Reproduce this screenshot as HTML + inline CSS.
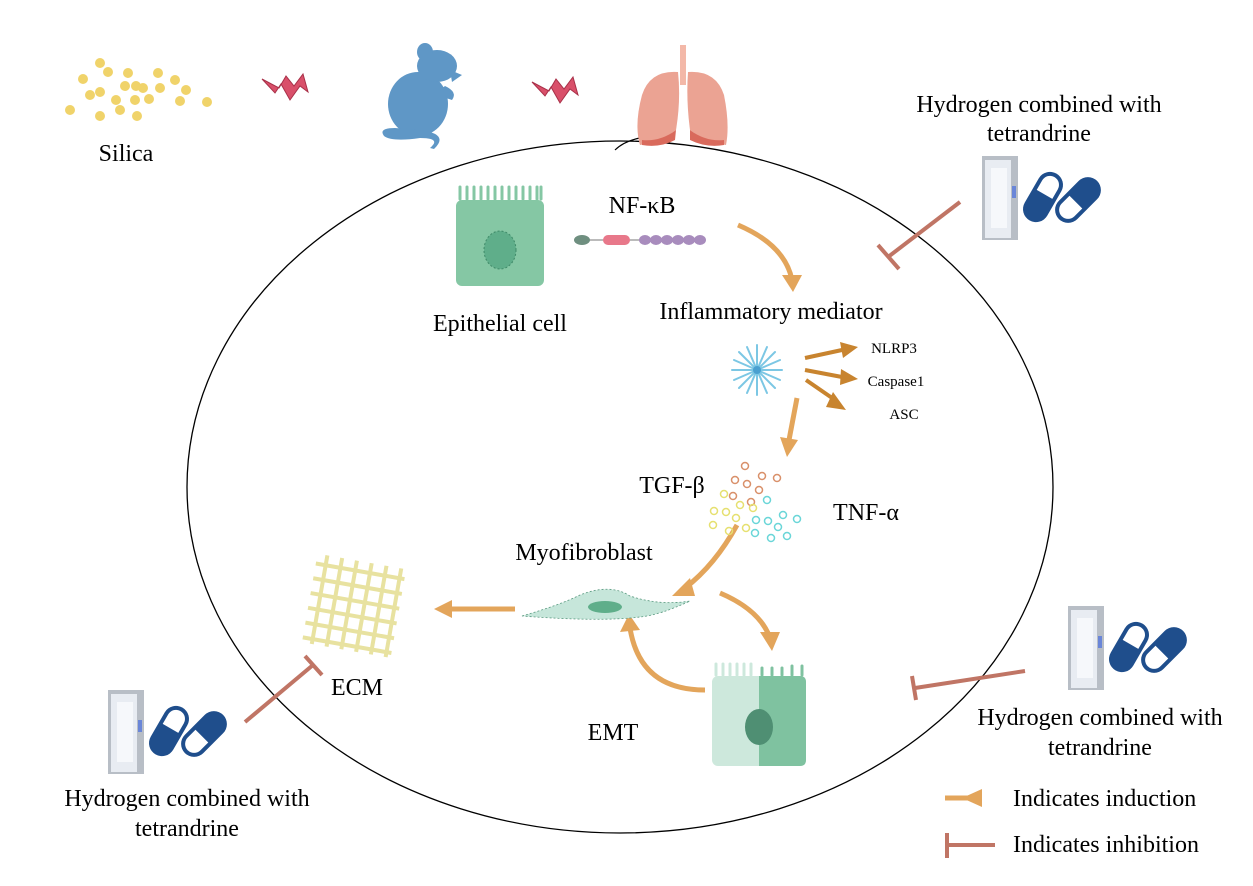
<!DOCTYPE html>
<html><head><meta charset="utf-8"><style>
html,body{margin:0;padding:0;background:#fff;}
svg{display:block;font-family:"Liberation Serif",serif;}
</style></head><body>
<svg width="1253" height="886" viewBox="0 0 1253 886" xmlns="http://www.w3.org/2000/svg">
<defs>
<g id="drug">
  <rect x="0" y="0" width="36" height="84" fill="#b8bec6"/>
  <rect x="3" y="4" width="26" height="78" fill="#e8ecf2"/>
  <rect x="9" y="12" width="16" height="60" fill="#f6f8fb"/>
  <rect x="30" y="30" width="4" height="12" fill="#6a86d8"/>
  <g transform="translate(61,41) rotate(-60)">
    <rect x="-27" y="-13" width="54" height="26" rx="13" fill="#1f4e8c"/>
    <path d="M3,-9 H14 A9,9 0 0 1 14,9 H3 Z" fill="#fff"/>
  </g>
  <g transform="translate(96,44) rotate(-45)">
    <rect x="-27" y="-13" width="54" height="26" rx="13" fill="#1f4e8c"/>
    <path d="M-3,-9 H-14 A9,9 0 0 0 -14,9 H-3 Z" fill="#fff"/>
  </g>
</g>
</defs>

<ellipse cx="620" cy="487" rx="433" ry="346" fill="none" stroke="#000" stroke-width="1.3"/>
<path d="M615,150 Q625,140 645,137" fill="none" stroke="#000" stroke-width="1.2"/>

<g fill="#f0d36a">
<circle cx="83" cy="79" r="5"/><circle cx="100" cy="63" r="5"/><circle cx="100" cy="92" r="5"/><circle cx="108" cy="72" r="5"/>
<circle cx="128" cy="73" r="5"/><circle cx="125" cy="86" r="5"/><circle cx="135" cy="100" r="5"/><circle cx="149" cy="99" r="5"/>
<circle cx="116" cy="100" r="5"/><circle cx="120" cy="110" r="5"/><circle cx="100" cy="116" r="5"/><circle cx="90" cy="95" r="5"/>
<circle cx="136" cy="86" r="5"/><circle cx="158" cy="73" r="5"/><circle cx="175" cy="80" r="5"/><circle cx="143" cy="88" r="5"/>
<circle cx="180" cy="101" r="5"/><circle cx="160" cy="88" r="5"/><circle cx="70" cy="110" r="5"/><circle cx="137" cy="116" r="5"/>
<circle cx="207" cy="102" r="5"/><circle cx="186" cy="90" r="5"/>
</g>
<text x="126" y="161" font-size="24" text-anchor="middle">Silica</text>

<polygon points="202,79 215,93 221,84 230,100 240,86 248,92 243,74 234,86 226,76 219,88" fill="#d9506a" stroke="#a83048" stroke-width="1" transform="translate(60,0)"/>
<polygon points="202,79 215,93 221,84 230,100 240,86 248,92 243,74 234,86 226,76 219,88" fill="#d9506a" stroke="#a83048" stroke-width="1" transform="translate(330,3)"/>

<!-- mouse -->
<g fill="#5f97c6">
<ellipse cx="418" cy="104" rx="30" ry="32"/>
<ellipse cx="437" cy="66" rx="20" ry="16"/>
<ellipse cx="425" cy="52" rx="8" ry="9"/>
<path d="M450,70 L462,75 L452,82Z"/>
<path d="M445,86 Q458,92 452,100 L446,98 Q448,93 440,90Z"/>
<path d="M395,128 Q378,128 384,136 Q392,142 420,138 Q442,138 430,148 L434,149 Q450,134 420,130 Z"/>
</g>

<g>
<rect x="680" y="45" width="6" height="40" fill="#f3b8a8"/>
<path d="M678,72 Q650,70 642,95 Q634,125 640,145 Q660,142 676,130 Q681,100 678,72Z" fill="#eba393"/>
<path d="M688,72 Q716,70 724,95 Q730,125 726,145 Q706,142 690,130 Q686,100 688,72Z" fill="#eba393"/>
<path d="M642,140 Q660,142 676,130 L675,140 Q660,148 642,145Z" fill="#d96a5c"/>
<path d="M724,140 Q706,142 690,130 L690,140 Q706,148 724,145Z" fill="#d96a5c"/>
</g>

<g>
<rect x="456" y="200" width="88" height="86" rx="6" fill="#85c7a4"/>
<g stroke="#85c7a4" stroke-width="3" stroke-linecap="round">
<line x1="460" y1="199" x2="460" y2="187"/><line x1="467" y1="199" x2="467" y2="187"/><line x1="474" y1="199" x2="474" y2="187"/><line x1="481" y1="199" x2="481" y2="187"/><line x1="488" y1="199" x2="488" y2="187"/><line x1="495" y1="199" x2="495" y2="187"/><line x1="502" y1="199" x2="502" y2="187"/><line x1="509" y1="199" x2="509" y2="187"/><line x1="516" y1="199" x2="516" y2="187"/><line x1="523" y1="199" x2="523" y2="187"/><line x1="530" y1="199" x2="530" y2="187"/><line x1="537" y1="199" x2="537" y2="187"/><line x1="541" y1="199" x2="541" y2="187"/>
</g>
<ellipse cx="500" cy="250" rx="16" ry="19" fill="#5fae8a" stroke="#3f8a68" stroke-dasharray="2,2"/>
</g>
<text x="500" y="331" font-size="24" text-anchor="middle">Epithelial cell</text>

<text x="642" y="213" font-size="24" text-anchor="middle">NF-κB</text>
<line x1="580" y1="240" x2="705" y2="240" stroke="#777" stroke-width="1"/>
<ellipse cx="582" cy="240" rx="8" ry="5" fill="#6f8f80"/>
<rect x="603" y="235" width="27" height="10" rx="5" fill="#e8788a"/>
<g fill="#a88cbd"><ellipse cx="645" cy="240" rx="6" ry="5"/><ellipse cx="656" cy="240" rx="6" ry="5"/><ellipse cx="667" cy="240" rx="6" ry="5"/><ellipse cx="678" cy="240" rx="6" ry="5"/><ellipse cx="689" cy="240" rx="6" ry="5"/><ellipse cx="700" cy="240" rx="6" ry="5"/></g>

<g stroke="#e3a55b" stroke-width="5" fill="none">
<path d="M738,225 Q785,245 792,280"/>
<path d="M797,398 L789,440"/>
<path d="M737,525 Q715,565 685,588"/>
<path d="M720,593 Q760,610 770,638"/>
<path d="M515,609 L450,609"/>
<path d="M705,690 Q640,690 630,628"/>
<path d="M945,798 L980,798"/>
</g>
<g fill="#e3a55b">
<polygon points="782,275 802,275 793,292"/>
<polygon points="780,437 798,440 787,457"/>
<polygon points="690,578 695,596 672,596"/>
<polygon points="760,632 780,632 772,651"/>
<polygon points="452,600 452,618 434,609"/>
<polygon points="620,632 640,630 629,614"/>
<polygon points="982,789 982,807 962,798"/>
</g>
<g stroke="#c8842f" stroke-width="4" fill="none">
<line x1="805" y1="358" x2="842" y2="350"/>
<line x1="805" y1="370" x2="842" y2="377"/>
<line x1="806" y1="380" x2="835" y2="400"/>
</g>
<g fill="#c8842f">
<polygon points="840,342 858,347 843,358"/>
<polygon points="841,369 858,379 840,385"/>
<polygon points="833,392 846,410 826,407"/>
</g>
<text x="771" y="319" font-size="24" text-anchor="middle">Inflammatory mediator</text>
<text x="894" y="353" font-size="15" text-anchor="middle">NLRP3</text>
<text x="896" y="386" font-size="15" text-anchor="middle">Caspase1</text>
<text x="904" y="419" font-size="15" text-anchor="middle">ASC</text>

<g stroke="#7cc7e4" stroke-width="2" stroke-linecap="round">
<line x1="757" y1="370" x2="757" y2="345"/><line x1="757" y1="370" x2="757" y2="395"/>
<line x1="757" y1="370" x2="732" y2="370"/><line x1="757" y1="370" x2="782" y2="370"/>
<line x1="757" y1="370" x2="739" y2="352"/><line x1="757" y1="370" x2="775" y2="388"/>
<line x1="757" y1="370" x2="775" y2="352"/><line x1="757" y1="370" x2="739" y2="388"/>
<line x1="757" y1="370" x2="747" y2="347"/><line x1="757" y1="370" x2="767" y2="393"/>
<line x1="757" y1="370" x2="767" y2="347"/><line x1="757" y1="370" x2="747" y2="393"/>
<line x1="757" y1="370" x2="734" y2="360"/><line x1="757" y1="370" x2="780" y2="380"/>
<line x1="757" y1="370" x2="780" y2="360"/><line x1="757" y1="370" x2="734" y2="380"/>
</g>
<circle cx="757" cy="370" r="4" fill="#4aa0d0"/>

<g fill="none" stroke-width="1.5" transform="translate(78,0)">
<g stroke="#d9906a"><circle cx="667" cy="466" r="3.5"/><circle cx="657" cy="480" r="3.5"/><circle cx="669" cy="484" r="3.5"/><circle cx="684" cy="476" r="3.5"/><circle cx="699" cy="478" r="3.5"/><circle cx="681" cy="490" r="3.5"/><circle cx="655" cy="496" r="3.5"/><circle cx="673" cy="502" r="3.5"/></g>
<g stroke="#e6e070"><circle cx="646" cy="494" r="3.5"/><circle cx="636" cy="511" r="3.5"/><circle cx="648" cy="512" r="3.5"/><circle cx="662" cy="505" r="3.5"/><circle cx="635" cy="525" r="3.5"/><circle cx="658" cy="518" r="3.5"/><circle cx="651" cy="531" r="3.5"/><circle cx="668" cy="528" r="3.5"/><circle cx="675" cy="508" r="3.5"/></g>
<g stroke="#6ad6d8"><circle cx="689" cy="500" r="3.5"/><circle cx="678" cy="520" r="3.5"/><circle cx="690" cy="521" r="3.5"/><circle cx="705" cy="515" r="3.5"/><circle cx="719" cy="519" r="3.5"/><circle cx="700" cy="527" r="3.5"/><circle cx="677" cy="533" r="3.5"/><circle cx="693" cy="538" r="3.5"/><circle cx="709" cy="536" r="3.5"/></g>
</g>
<text x="672" y="493" font-size="24" text-anchor="middle">TGF-β</text>
<text x="866" y="520" font-size="24" text-anchor="middle">TNF-α</text>

<text x="584" y="560" font-size="24" text-anchor="middle">Myofibroblast</text>
<path d="M522,616 Q560,605 580,595 Q610,583 630,596 Q660,606 690,601 Q660,615 640,617 Q600,622 522,616Z" fill="#c6e6da" stroke="#5a9a80" stroke-width="0.8" stroke-dasharray="2,2"/>
<ellipse cx="605" cy="607" rx="17" ry="6" fill="#5fae8a"/>

<g stroke="#e8e2a0" stroke-width="4" transform="rotate(10 350 600)">
<line x1="320" y1="560" x2="320" y2="650"/><line x1="335" y1="560" x2="335" y2="650"/><line x1="350" y1="560" x2="350" y2="650"/><line x1="365" y1="560" x2="365" y2="650"/><line x1="380" y1="560" x2="380" y2="650"/><line x1="395" y1="560" x2="395" y2="650"/>
<line x1="310" y1="570" x2="400" y2="570"/><line x1="310" y1="585" x2="400" y2="585"/><line x1="310" y1="600" x2="400" y2="600"/><line x1="310" y1="615" x2="400" y2="615"/><line x1="310" y1="630" x2="400" y2="630"/><line x1="310" y1="645" x2="400" y2="645"/>
</g>
<text x="357" y="695" font-size="24" text-anchor="middle">ECM</text>
<text x="613" y="740" font-size="24" text-anchor="middle">EMT</text>

<g>
<rect x="712" y="676" width="94" height="90" rx="6" fill="#cde8dc"/>
<path d="M759,676 H800 Q806,676 806,682 V760 Q806,766 800,766 H759Z" fill="#7fc2a0"/>
<g stroke-width="3" stroke-linecap="round">
<g stroke="#cde8dc"><line x1="716" y1="675" x2="716" y2="664"/><line x1="723" y1="675" x2="723" y2="664"/><line x1="730" y1="675" x2="730" y2="664"/><line x1="737" y1="675" x2="737" y2="664"/><line x1="744" y1="675" x2="744" y2="664"/><line x1="751" y1="675" x2="751" y2="664"/></g>
<g stroke="#7fc2a0"><line x1="762" y1="675" x2="762" y2="668"/><line x1="772" y1="675" x2="772" y2="668"/><line x1="782" y1="675" x2="782" y2="668"/><line x1="792" y1="675" x2="792" y2="666"/><line x1="802" y1="675" x2="802" y2="666"/></g>
</g>
<ellipse cx="759" cy="727" rx="14" ry="18" fill="#4f8f73"/>
</g>

<g stroke="#c07565" stroke-width="4" stroke-linecap="butt">
<line x1="960" y1="202" x2="888" y2="257"/><line x1="878" y1="245" x2="899" y2="269"/>
<line x1="1025" y1="671" x2="915" y2="688"/><line x1="912" y1="676" x2="916" y2="700"/>
<line x1="245" y1="722" x2="313" y2="665"/><line x1="305" y1="656" x2="322" y2="675"/>
<line x1="945" y1="845" x2="995" y2="845"/><line x1="947" y1="833" x2="947" y2="858"/>
</g>

<use href="#drug" x="982" y="156"/>
<use href="#drug" x="1068" y="606"/>
<use href="#drug" x="108" y="690"/>

<text x="1039" y="112" font-size="24" text-anchor="middle">Hydrogen combined with</text>
<text x="1039" y="141" font-size="24" text-anchor="middle">tetrandrine</text>
<text x="1100" y="725" font-size="24" text-anchor="middle">Hydrogen combined with</text>
<text x="1100" y="755" font-size="24" text-anchor="middle">tetrandrine</text>
<text x="187" y="806" font-size="24" text-anchor="middle">Hydrogen combined with</text>
<text x="187" y="836" font-size="24" text-anchor="middle">tetrandrine</text>

<text x="1013" y="806" font-size="24">Indicates induction</text>
<text x="1013" y="852" font-size="24">Indicates inhibition</text>
</svg>
</body></html>
